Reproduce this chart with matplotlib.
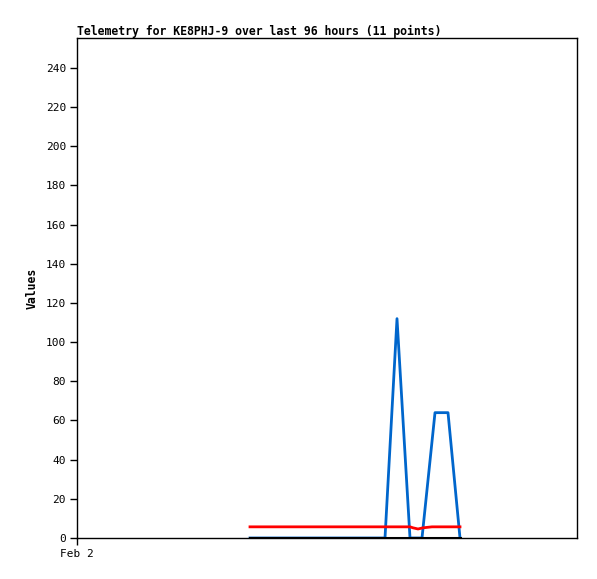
import matplotlib
matplotlib.use("Agg")
import matplotlib.pyplot as plt

# time in minutes after Feb 2 00:00
blue_times = [173, 308, 320, 333, 345, 358, 371, 383]
blue_values = [0, 0, 112, 0, 0, 64, 64, 0]
red_times = [173, 333, 336, 341, 346, 355, 383]
red_values = [5.7, 5.7, 5.2, 4.6, 5.2, 5.7, 5.7]
black_times = [173, 383]
black_values = [0, 0]
yticks = list(range(0, 241, 20))
xtick_pos = [0]
xtick_labels = ["Feb 2"]

W, H = 597, 579
fig = plt.figure(figsize=(W / 100, H / 100), dpi=100)
ax = fig.add_axes([77 / W, (H - 538) / H, 500 / W, 500 / H])

ax.plot(blue_times, blue_values, color="#0066cc", lw=2)
ax.plot(red_times, red_values, color="#ff0000", lw=2)
ax.plot(black_times, black_values, color="#000000", lw=2.2)

ax.set_xlim(0, 500)
ax.set_ylim(0, 255.3)
ax.set_yticks(yticks)
ax.set_yticklabels([str(v) for v in yticks], fontsize=8, family="DejaVu Sans Mono")
ax.set_xticks(xtick_pos)
ax.set_xticklabels(xtick_labels, fontsize=8, family="DejaVu Sans Mono")
ax.tick_params(axis="both", direction="out", length=5, width=1, pad=3)
for s in ax.spines.values():
    s.set_linewidth(1)

ax.set_ylabel("Values", fontsize=8.3, family="DejaVu Sans Mono", fontweight="bold", labelpad=5)
fig.text(77 / W, 1 - 31 / H, "Telemetry for KE8PHJ-9 over last 96 hours (11 points)",
         fontsize=8.3, family="DejaVu Sans Mono", fontweight="bold", ha="left", va="center")

fig.savefig("out.png", dpi=100)
